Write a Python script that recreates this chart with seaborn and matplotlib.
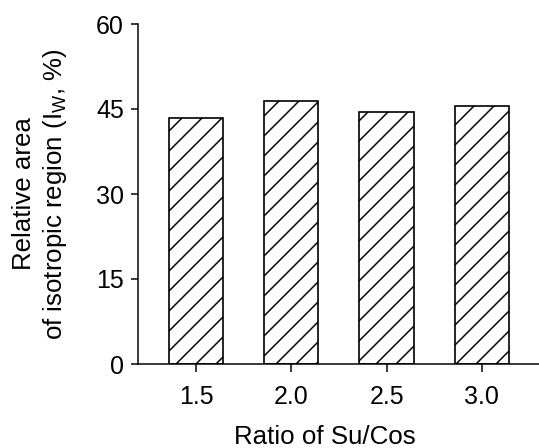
#!/usr/bin/env python3
"""
Relative area of isotropic region vs. Su/Cos ratio (hatched bar chart).
"""

import pandas as pd
import matplotlib
matplotlib.use("Agg")
import matplotlib.pyplot as plt
import seaborn as sns

ratios = ["1.5", "2.0", "2.5", "3.0"]
iso_area = [43.4, 46.4, 44.4, 45.5]
y_ticks = [0, 15, 30, 45, 60]

df = pd.DataFrame({"Ratio": ratios, "Area": iso_area})

sns.set_style("ticks")
plt.rcParams["font.family"] = ["Liberation Sans", "DejaVu Sans"]
plt.rcParams["mathtext.default"] = "regular"
plt.rcParams["hatch.linewidth"] = 0.9
plt.rcParams["text.color"] = "black"
plt.rcParams["axes.labelcolor"] = "black"

DPI = 120
fig = plt.figure(figsize=(539 / DPI, 448 / DPI), dpi=DPI)
ax = fig.add_axes([138 / 539, 84 / 448, 401 / 539, 340 / 448])

sns.barplot(data=df, x="Ratio", y="Area", ax=ax, color="white",
            edgecolor="black", linewidth=1.0, hatch="//", width=0.57,
            saturation=1)

ax.set_xlim(-0.61, 3.60)
ax.set_ylim(0, 60)
ax.set_yticks(y_ticks)

sns.despine(ax=ax)
for side in ("left", "bottom"):
    ax.spines[side].set_linewidth(0.9)
    ax.spines[side].set_color("black")

ax.tick_params(axis="both", direction="out", length=4.5, width=0.9,
               colors="black", labelsize=15)
ax.tick_params(axis="x", pad=8)
ax.tick_params(axis="y", pad=4)

ax.set_xlabel("Ratio of Su/Cos", fontsize=15.5, color="black")
ax.xaxis.set_label_coords(0.466, -0.178)
ax.set_ylabel("Relative area\nof isotropic region (I$_W$, %)", fontsize=15.5,
              linespacing=1.2, color="black")
ax.yaxis.set_label_coords(-0.173, 0.5)

fig.savefig("out.png", dpi=DPI)
plt.close(fig)
